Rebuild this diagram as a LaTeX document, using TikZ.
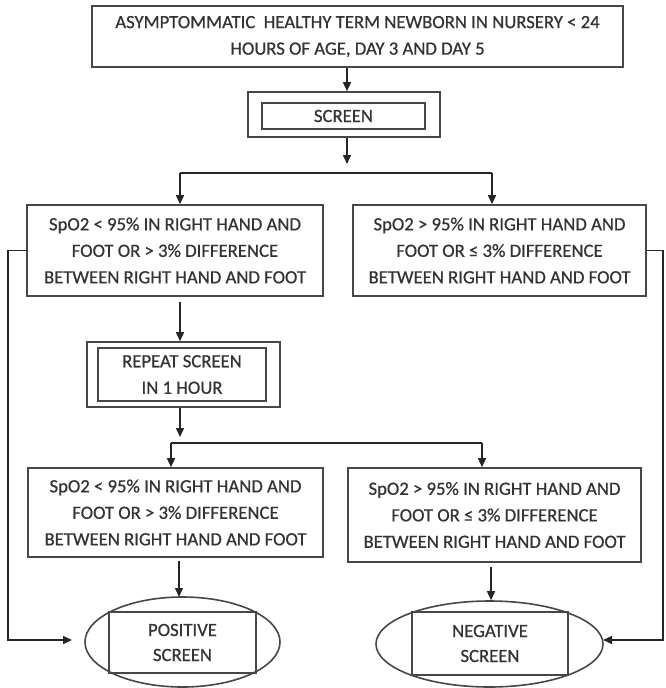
\documentclass[tikz,border=0pt]{standalone}
\usepackage{fontspec}
\setmainfont{Carlito}
\newfontfamily\boxfont{Carlito}[FakeBold=0.7]
\usetikzlibrary{arrows.meta,shapes.geometric}
\begin{document}
\begin{tikzpicture}[x=1pt,y=-1pt,
  lc/.style={draw=black!72, line width=1.6pt},
  box/.style={lc, rectangle, inner sep=0pt, align=center, text=black!80,
    font=\boxfont\fontsize{18.7}{26.5}\selectfont},
  frame/.style={lc, rectangle, inner sep=0pt},
  oval/.style={lc, ellipse, inner sep=0pt},
  arr/.style={draw=black!85, line width=1.5pt, -{Triangle[length=9pt,width=8pt]}},
  wire/.style={draw=black!85, line width=1.5pt}]
\useasboundingbox (0,0) rectangle (665,688);

% top
\node[box, minimum width=531pt, minimum height=61pt] (top) at (357.5,36.5)
  {ASYMPTOMMATIC\ \ HEALTHY TERM NEWBORN IN NURSERY < 24\\HOURS OF AGE, DAY 3 AND DAY 5};

% screen
\node[frame, minimum width=192pt, minimum height=45pt] (so) at (344,114.5) {};
\node[box, minimum width=163pt, minimum height=26pt] (si) at (343.5,116) {SCREEN};

% first results
\node[box, minimum width=296pt, minimum height=91pt] (L1) at (175,250.5)
  {SpO2 < 95\% IN RIGHT HAND AND\\FOOT OR > 3\% DIFFERENCE\\BETWEEN RIGHT HAND AND FOOT};
\node[box, minimum width=293pt, minimum height=91pt] (R1) at (499.5,250.5)
  {SpO2 > 95\% IN RIGHT HAND AND\\FOOT OR ≤ 3\% DIFFERENCE\\BETWEEN RIGHT HAND AND FOOT};

% repeat screen
\node[frame, minimum width=193pt, minimum height=65pt] (rso) at (183.5,374.5) {};
\node[box, minimum width=168pt, minimum height=53pt] (rsi) at (182,374.5)
  {REPEAT SCREEN\\IN 1 HOUR};

% second results
\node[box, minimum width=295pt, minimum height=89pt] (L2) at (175.5,512.5)
  {SpO2 < 95\% IN RIGHT HAND AND\\FOOT OR > 3\% DIFFERENCE\\BETWEEN RIGHT HAND AND FOOT};
\node[box, minimum width=293pt, minimum height=94pt] (R2) at (494.5,515)
  {SpO2 > 95\% IN RIGHT HAND AND\\FOOT OR ≤ 3\% DIFFERENCE\\BETWEEN RIGHT HAND AND FOOT};

% outcomes
\node[oval, minimum width=195pt, minimum height=90pt] (pos) at (182.5,642) {};
\node[box, minimum width=147pt, minimum height=61pt, font=\boxfont\fontsize{18.7}{25}\selectfont] (posi) at (182.5,642.5)
  {POSITIVE\\SCREEN};
\node[oval, minimum width=227pt, minimum height=86pt] (neg) at (489.5,644) {};
\node[box, minimum width=156pt, minimum height=63pt, font=\boxfont\fontsize{18.7}{25}\selectfont] (negi) at (490,643.5)
  {NEGATIVE\\SCREEN};

% connector points
\coordinate (j1) at (347,173);
\coordinate (j1l) at (180,173);
\coordinate (j1r) at (492,173);
\coordinate (j2) at (180,443);
\coordinate (j2l) at (171,443);
\coordinate (j2r) at (482,443);
\coordinate (lw) at (8,250.5);
\coordinate (lb) at (8,640);
\coordinate (pin) at (72,640);
\coordinate (rw) at (663,250.5);
\coordinate (rb) at (663,640);
\coordinate (nin) at (603,640);

% connectors
\draw[arr] (347,0 |- top.south) -- (347,0 |- so.north);
\draw[arr, shorten >=9pt] (347,0 |- so.south) -- (j1);
\draw[wire] (j1l) -- (j1r);
\draw[arr] (j1l) -- (j1l |- L1.north);
\draw[arr] (j1r) -- (j1r |- R1.north);

\draw[arr, shorten <=5pt] (180,0 |- L1.south) -- (180,0 |- rso.north);

\draw[arr, shorten >=6pt] (180,0 |- rso.south) -- (j2);
\draw[wire] (j2l) -- (j2r);
\draw[arr] (j2l) -- (j2l |- L2.north);
\draw[arr] (j2r) -- (j2r |- R2.north);

\draw[arr, shorten <=3pt] (179,0 |- L2.south) -- (179,597);
\draw[arr, shorten <=4pt] (491,0 |- R2.south) -- (491,0 |- neg.north);

\draw[arr] (L1.west) -- (lw) -- (lb) -- (pin);
\draw[arr] (R1.east) -- (rw) -- (rb) -- (nin);
\end{tikzpicture}
\end{document}
